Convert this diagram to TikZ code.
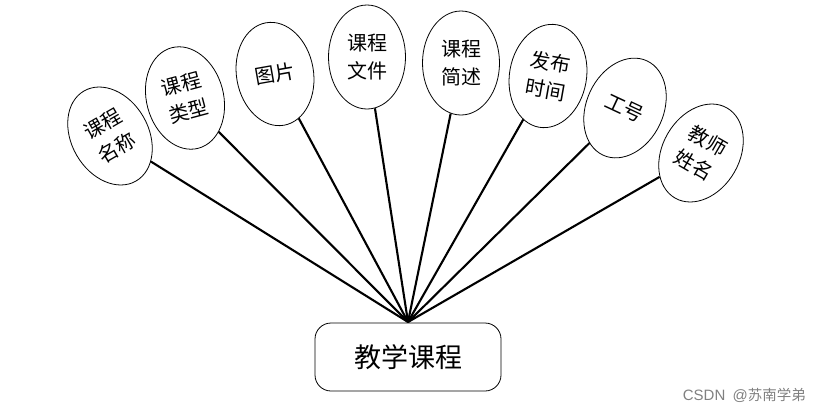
\documentclass[tikz,border=0pt]{standalone}
\usepackage{fontspec}
\newfontfamily\cjk{Noto Sans CJK SC}
\newfontfamily\wmlat{Liberation Sans}
\usetikzlibrary{shapes.geometric}
\begin{document}
\begin{tikzpicture}[x=1pt,y=-1pt,
  attr/.style={draw,line width=0.8pt,ellipse,inner sep=0pt,minimum width=77pt,minimum height=104pt,
    align=center,font=\cjk\fontsize{20}{28}\selectfont},
  conn/.style={line width=2.1pt},
  ent/.style={draw,line width=0.8pt,rounded corners=16pt,minimum width=186pt,minimum height=68pt,
    font=\cjk\fontsize{27}{30}\selectfont}]
\useasboundingbox (0,0) rectangle (821,413);
\node[ent] (main) at (408,357) {教学课程};
\coordinate (hub) at (408,322);
\node[attr,rotate=30] (a1) at (110,136) {课程\\名称};
\node[attr,rotate=15] (a2) at (185,98) {课程\\类型};
\node[attr,rotate=10] (a3) at (275,74) {图片};
\node[attr] (a4) at (367,57) {课程\\文件};
\node[attr] (a5) at (461,63) {课程\\简述};
\node[attr,rotate=-10] (a6) at (548,76) {发布\\时间};
\node[attr,rotate=-25] (a7) at (625,108) {工号};
\node[attr,rotate=-30] (a8) at (701,153) {教师\\姓名};
\foreach \i in {1,...,8} {\draw[conn] (a\i) -- (hub);}
\node[anchor=east,text=gray,inner sep=0pt] (wm) at (806,395)
  {{\wmlat\fontsize{15}{17}\selectfont CSDN\hspace{3pt} @}{\cjk\fontsize{14.5}{17}\selectfont 苏南学弟}};
\end{tikzpicture}
\end{document}
